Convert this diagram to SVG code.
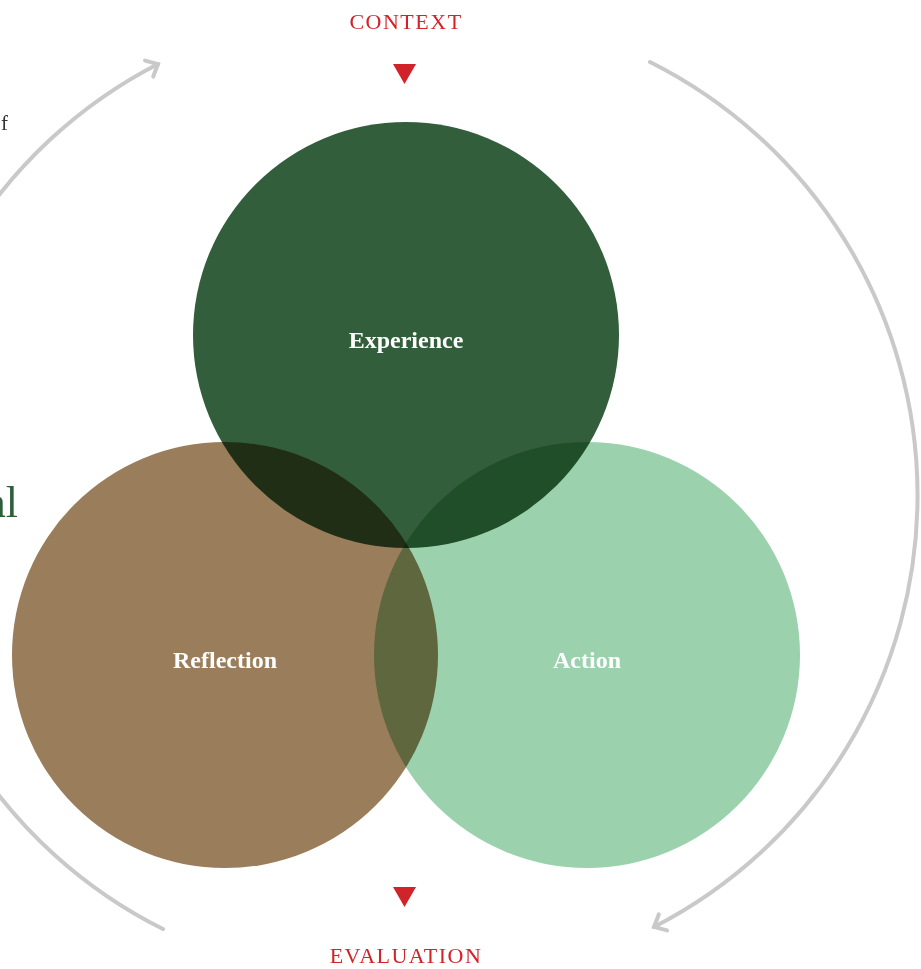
<svg xmlns="http://www.w3.org/2000/svg" width="921" height="969" viewBox="0 0 921 969">
<defs>
<style>
.circ{mix-blend-mode:multiply}
.lbl{font-family:"Liberation Serif","DejaVu Serif",serif;font-size:24px;font-weight:bold;fill:#ffffff;text-anchor:middle}
.cap{font-family:"Liberation Serif","DejaVu Serif",serif;font-size:22px;fill:#d1232a;text-anchor:middle;letter-spacing:1.5px}
.arc{fill:none;stroke:#c9c9c9;stroke-width:4;stroke-linecap:round}
.tri{fill:#d1232a}
</style>
<marker id="chev" viewBox="-14 -12 18 24" refX="0" refY="0" markerWidth="18" markerHeight="24" markerUnits="userSpaceOnUse" orient="auto" overflow="visible">
<path d="M-10,-9 L0,0 L-10,9" fill="none" stroke="#c9c9c9" stroke-width="4" stroke-linecap="round" stroke-linejoin="miter"/>
</marker>
</defs>
<rect x="0" y="0" width="921" height="969" fill="#ffffff"/>
<g id="side-text">
<text x="8" y="130" font-family="'Liberation Serif','DejaVu Serif',serif" font-size="21" fill="#333333" text-anchor="end">f</text>
<text x="18" y="517" font-family="'Liberation Serif','DejaVu Serif',serif" font-size="44" fill="#2e5e3a" text-anchor="end">al</text>
</g>
<g id="connectors">
<path class="arc" d="M 163 929 A 485 485 0 0 1 158 64" marker-end="url(#chev)"/>
<path class="arc" d="M 650 62 A 485 485 0 0 1 654 927" marker-end="url(#chev)"/>
</g>
<g id="node-experience">
<circle class="circ" cx="406" cy="335" r="213" fill="#335e3b"/>
</g>
<g id="node-reflection">
<circle class="circ" cx="225" cy="655" r="213" fill="#9a7d5a"/>
</g>
<g id="node-action">
<circle class="circ" cx="587" cy="655" r="213" fill="#9bd2ad"/>
</g>
<g id="labels">
<text class="lbl" x="406" y="348">Experience</text>
<text class="lbl" x="225" y="668">Reflection</text>
<text class="lbl" x="587" y="668">Action</text>
</g>
<g id="context">
<text class="cap" x="406" y="29">CONTEXT</text>
<polygon class="tri" points="393,64 416,64 404.5,84"/>
</g>
<g id="evaluation">
<polygon class="tri" points="393,887 416,887 404.5,907"/>
<text class="cap" x="406" y="963">EVALUATION</text>
</g>
</svg>
